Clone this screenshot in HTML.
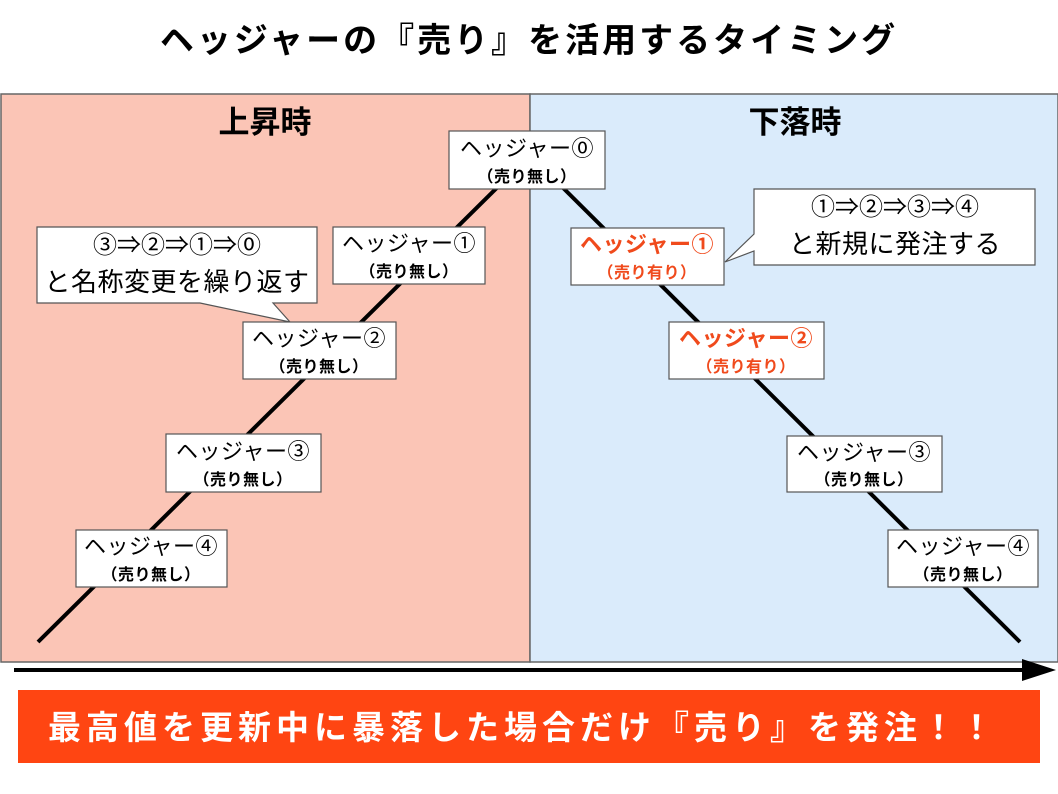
<!DOCTYPE html>
<html><head><meta charset="utf-8"><style>
body{margin:0;background:#fff;}
svg{display:block}
text{font-family:"Liberation Sans","Noto Sans CJK JP",sans-serif;}
</style></head><body>
<svg width="1058" height="794" viewBox="0 0 1058 794" xmlns="http://www.w3.org/2000/svg">
<text x="529" y="52" font-size="34" font-weight="bold" letter-spacing="3" text-anchor="middle" fill="#000">ヘッジャーの『売り』を活用するタイミング</text>
<rect x="1" y="94" width="529" height="568" fill="#FBC5B6" stroke="#666" stroke-width="1.5"/>
<rect x="530" y="94" width="528" height="568" fill="#DAEBFB" stroke="#666" stroke-width="1.5"/>
<text x="265" y="133" font-size="31" font-weight="bold" text-anchor="middle">上昇時</text>
<text x="795" y="133" font-size="31" font-weight="bold" text-anchor="middle">下落時</text>
<line x1="38" y1="642" x2="527" y2="158" stroke="#000" stroke-width="4"/>
<line x1="533" y1="158" x2="1020" y2="642" stroke="#000" stroke-width="4"/>
<polygon points="37,227 317,227 317,303 273,303 290,322 200,303 37,303" fill="#fff" stroke="#555" stroke-width="1.2"/>
<text x="177" y="253" font-size="24" text-anchor="middle">③⇒②⇒①⇒⓪</text>
<text x="177" y="291" font-size="26" letter-spacing="0.5" text-anchor="middle">と名称変更を繰り返す</text>
<polygon points="754,189 1035,189 1035,265 754,265 754,251 725,262 754,234" fill="#fff" stroke="#555" stroke-width="1.2"/>
<text x="895" y="215" font-size="24" text-anchor="middle">①⇒②⇒③⇒④</text>
<text x="895" y="253" font-size="26" letter-spacing="0.5" text-anchor="middle">と新規に発注する</text>
<g stroke="#555" stroke-width="1.2" fill="#fff">
<rect x="449" y="131" width="156" height="58"/>
<rect x="333" y="227" width="152" height="57"/>
<rect x="243" y="322" width="153" height="57"/>
<rect x="166" y="434" width="155" height="58"/>
<rect x="76" y="530" width="151" height="57"/>
<rect x="571" y="228" width="153" height="57"/>
<rect x="669" y="322" width="155" height="57"/>
<rect x="787" y="436" width="155" height="56"/>
<rect x="888" y="530" width="150" height="57"/>
</g>
<g font-size="22" text-anchor="middle" letter-spacing="0.5">
<text x="527" y="156">ヘッジャー⓪</text><text x="527" y="182" font-size="16" font-weight="bold">（売り無し）</text>
<text x="409" y="251">ヘッジャー①</text><text x="409" y="277" font-size="16" font-weight="bold">（売り無し）</text>
<text x="319" y="346">ヘッジャー②</text><text x="319" y="372" font-size="16" font-weight="bold">（売り無し）</text>
<text x="243" y="459">ヘッジャー③</text><text x="243" y="485" font-size="16" font-weight="bold">（売り無し）</text>
<text x="151" y="554">ヘッジャー④</text><text x="151" y="580" font-size="16" font-weight="bold">（売り無し）</text>
<g fill="#F04A1C" font-weight="bold"><text x="647" y="252">ヘッジャー①</text><text x="647" y="278" font-size="16">（売り有り）</text>
<text x="746" y="346">ヘッジャー②</text><text x="746" y="372" font-size="16">（売り有り）</text></g>
<text x="864" y="460">ヘッジャー③</text><text x="864" y="485" font-size="16" font-weight="bold">（売り無し）</text>
<text x="963" y="554">ヘッジャー④</text><text x="963" y="580" font-size="16" font-weight="bold">（売り無し）</text>
</g>
<line x1="14" y1="670" x2="1025" y2="670" stroke="#000" stroke-width="4"/>
<polygon points="1022,659 1056,670 1022,681" fill="#000"/>
<rect x="18" y="690" width="1022" height="73" fill="#FF4512"/>
<text x="523" y="739" font-size="33" font-weight="bold" letter-spacing="5" fill="#fff" text-anchor="middle">最高値を更新中に暴落した場合だけ『売り』を発注！！</text>
</svg>
</body></html>
